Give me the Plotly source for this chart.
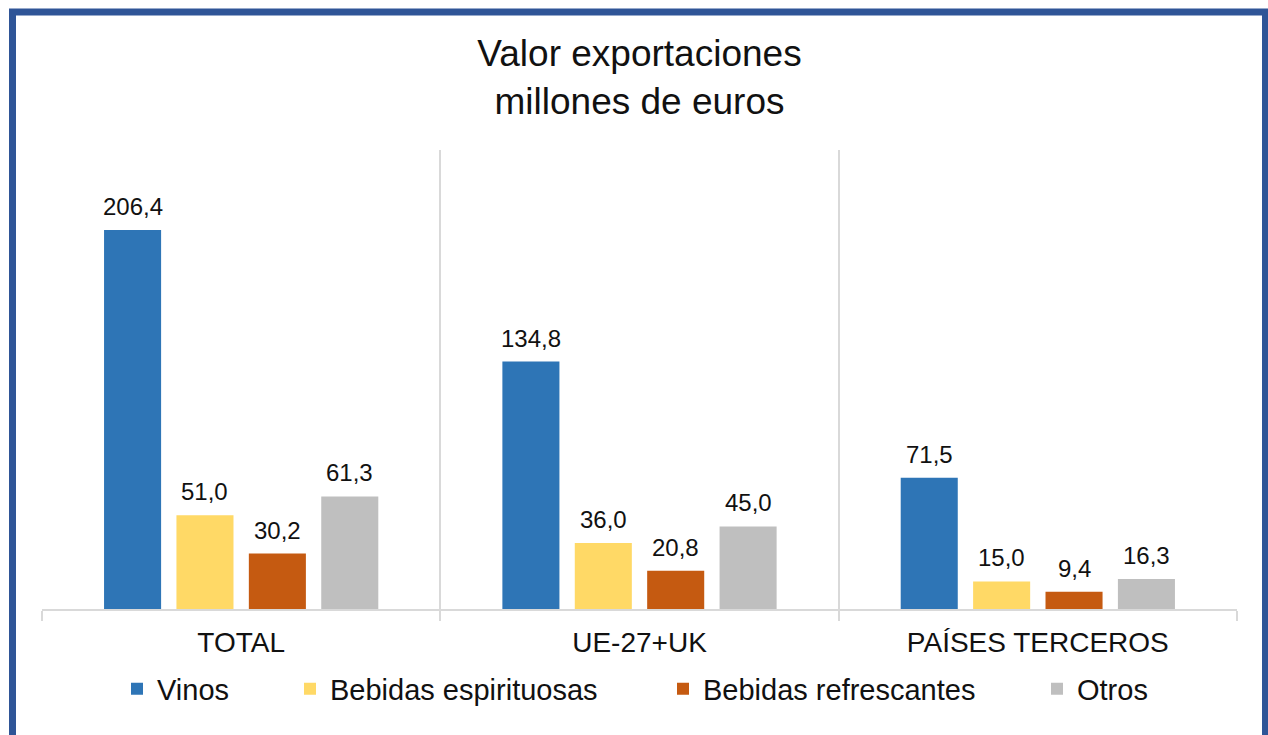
import plotly.graph_objects as go

# Export value by market (millions of euros)
categories = ["TOTAL", "UE-27+UK", "PAÍSES TERCEROS"]
series_names = ["Vinos", "Bebidas espirituosas", "Bebidas refrescantes", "Otros"]
vinos = [206.4, 134.8, 71.5]
espirituosas = [51.0, 36.0, 15.0]
refrescantes = [30.2, 20.8, 9.4]
otros = [61.3, 45.0, 16.3]
series_values = [vinos, espirituosas, refrescantes, otros]
colors = ["#2E75B6", "#FFD966", "#C55A11", "#BFBFBF"]

FONT = "Liberation Sans, Arial, sans-serif"
BARGAP = 0.273
BARGROUPGAP = 0.212

# Plot area in pixels (used to place paper-referenced items)
W, H = 1268, 735
ML, MR, MT, MB = 42, 31, 150, 126
PW = W - ML - MR
PH = H - MT - MB


def px_x(px):
    return (px - ML) / PW


def px_y(py):
    return (H - MB - py) / PH


fig = go.Figure()
legend_ids = ["legend", "legend2", "legend3", "legend4"]
for name, vals, col, lg in zip(series_names, series_values, colors, legend_ids):
    fig.add_trace(go.Bar(
        name=name, x=categories, y=vals,
        marker=dict(color=col, line=dict(width=0)),
        legend=lg, showlegend=True, hoverinfo="skip",
    ))

# Value labels above each bar
slot = (1 - BARGAP) / len(series_names)
annotations = []
for k, vals in enumerate(series_values):
    off = (k - (len(series_names) - 1) / 2) * slot
    for i, v in enumerate(vals):
        annotations.append(dict(
            x=i + off, y=v, xref="x", yref="y",
            text=f"{v:.1f}".replace(".", ","),
            showarrow=False, yanchor="bottom", yshift=8,
            font=dict(family=FONT, size=24, color="#111111"),
        ))

# Legend entries placed individually along the bottom
legend_text_x = [157, 330, 703, 1077]
legend_layouts = {}
for lg, tx in zip(legend_ids, legend_text_x):
    legend_layouts[lg] = dict(
        x=px_x(tx - 40), xanchor="left",
        y=px_y(689), yanchor="middle",
        orientation="h", bgcolor="rgba(0,0,0,0)", borderwidth=0,
        font=dict(family=FONT, size=29, color="#111111"),
    )

fig.update_layout(
    width=W, height=H,
    margin=dict(l=ML, r=MR, t=MT, b=MB),
    paper_bgcolor="white", plot_bgcolor="white",
    showlegend=True,
    barmode="group", bargap=BARGAP, bargroupgap=BARGROUPGAP,
    title=dict(
        text="Valor exportaciones<br>millones de euros",
        x=0.5, xref="paper", xanchor="center",
        y=1 - 66 / H, yref="container", yanchor="top",
        font=dict(family=FONT, size=37, color="#111111"),
    ),
    xaxis=dict(
        type="category", tickson="boundaries",
        showgrid=True, gridcolor="#D9D9D9", gridwidth=1.5,
        showline=True, linecolor="#D9D9D9", linewidth=1.5,
        ticks="outside", ticklen=10, tickcolor="#D9D9D9", tickwidth=1.5,
        ticklabelstandoff=8,
        tickfont=dict(family=FONT, size=28, color="#111111"),
        fixedrange=True,
    ),
    yaxis=dict(range=[0, 250], visible=False, showgrid=False, fixedrange=True),
    annotations=annotations,
    shapes=[dict(
        type="rect", xref="paper", yref="paper",
        x0=px_x(12.5), x1=px_x(1265.5), y0=px_y(12), y1=px_y(780),
        line=dict(color="#2F5597", width=7), fillcolor="rgba(0,0,0,0)",
        layer="above",
    )],
    **legend_layouts,
)

fig.write_html("out.html", config={"displayModeBar": False})
